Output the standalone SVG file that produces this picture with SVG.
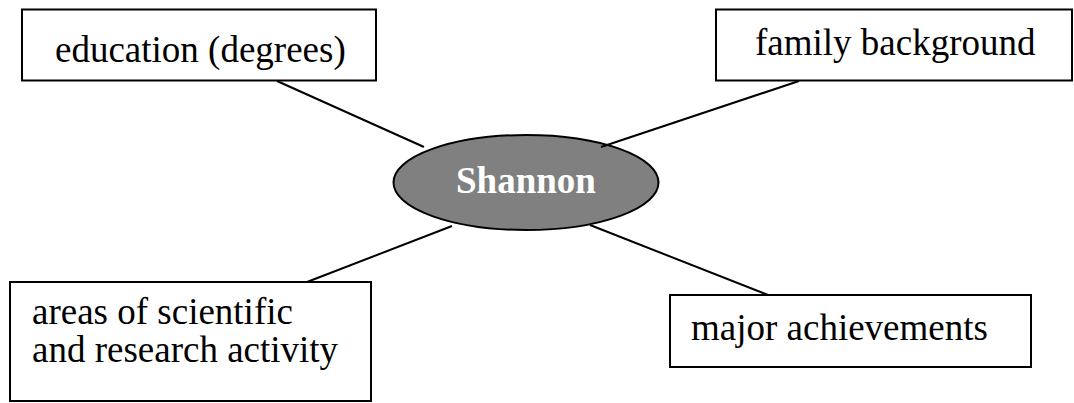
<svg xmlns="http://www.w3.org/2000/svg" width="1074" height="403" viewBox="0 0 1074 403">
  <style>
    .box { fill: #ffffff; stroke: #000000; stroke-width: 2; }
    .hub { fill: #808080; stroke: #000000; stroke-width: 2; }
    .link { stroke: #000000; stroke-width: 2; fill: none; }
    .label { font-family: "Liberation Serif", "Times New Roman", serif; font-size: 37px; fill: #000000; }
    .hub-label { font-family: "Liberation Serif", "Times New Roman", serif; font-size: 37px; font-weight: bold; fill: #ffffff; }
  </style>
  <rect width="1074" height="403" fill="#ffffff"/>

  <g id="node-shannon">
    <ellipse class="hub" cx="526" cy="182.5" rx="132.5" ry="47.5"/>
    <text class="hub-label" x="526" y="193" text-anchor="middle">Shannon</text>
  </g>

  <g id="connectors">
    <line class="link" x1="277" y1="81" x2="424" y2="147"/>
    <line class="link" x1="799" y1="81" x2="601" y2="147"/>
    <line class="link" x1="452" y1="226" x2="307" y2="282"/>
    <line class="link" x1="590" y1="225" x2="768" y2="295"/>
  </g>

  <g id="node-education">
    <rect class="box" x="22" y="9.5" width="354" height="71"/>
    <text class="label" x="55" y="62">education (degrees)</text>
  </g>

  <g id="node-family">
    <rect class="box" x="716" y="9.5" width="356" height="71"/>
    <text class="label" x="755" y="55">family background</text>
  </g>

  <g id="node-areas">
    <rect class="box" x="10" y="282" width="361" height="119"/>
    <text class="label" x="32" y="324">areas of scientific</text>
    <text class="label" x="32" y="362">and research activity</text>
  </g>

  <g id="node-achievements">
    <rect class="box" x="670" y="295" width="361" height="72"/>
    <text class="label" x="691" y="340">major achievements</text>
  </g>
</svg>
